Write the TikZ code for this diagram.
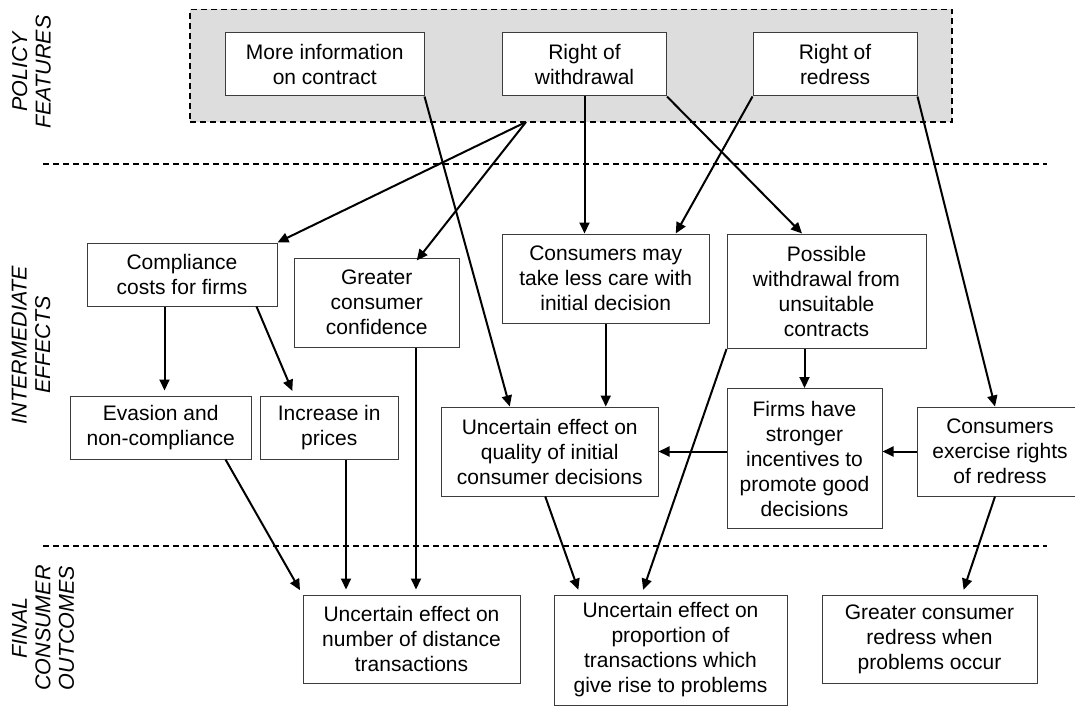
\documentclass[tikz,border=0pt]{standalone}
\usepackage{fontspec}
\setmainfont{Liberation Sans}
\usetikzlibrary{arrows.meta}
\definecolor{shade}{RGB}{221,221,221}
\definecolor{boxline}{RGB}{60,60,60}
\begin{document}
\begin{tikzpicture}[x=1pt,y=-1pt,
  box/.style={draw=boxline, line width=1pt, fill=white, align=center, inner sep=0pt, font=\fontsize{21}{25}\selectfont},
  arr/.style={line width=2pt, -{Triangle[length=11pt,width=10pt]}},
  gap/.style={shorten >=5pt},
  sepline/.style={line width=1.8pt, dash pattern=on 6pt off 4pt},
  side/.style={rotate=90, align=center, font=\fontsize{21.5}{23.5}\selectfont\itshape}]
\useasboundingbox (0,0) rectangle (1075,706);

% section separators
\draw[sepline] (43,164) -- (1047,164);
\draw[sepline] (43,546) -- (1047,546);

% side labels
\node[side] (lpf) at (31.5,72) {POLICY\\FEATURES};
\node[side] (lie) at (31,345) {INTERMEDIATE\\EFFECTS};
\node[side] (lfo) at (43,628) {FINAL\\CONSUMER\\OUTCOMES};

% policy features group
\node[draw, sepline, fill=shade, minimum width=762pt, minimum height=112.5pt, inner sep=0pt] (pf) at (571,65.75) {};

% policy boxes
\node[box, minimum width=198.5pt, minimum height=63pt] (mi) at (324.75,64.5) {More information\\on contract};
\node[box, minimum width=164pt, minimum height=63pt] (rw) at (584.5,64.5) {Right of\\withdrawal};
\node[box, minimum width=164pt, minimum height=63pt] (rr) at (835,64.5) {Right of\\redress};

% intermediate effects
\node[box, minimum width=190pt, minimum height=63pt] (comp) at (182,274.5) {Compliance\\costs for firms};
\node[box, minimum width=164.5pt, minimum height=89pt] (gc) at (376.75,302.5) {Greater\\consumer\\confidence};
\node[box, minimum width=207.5pt, minimum height=89pt] (cm) at (605.75,278.5) {Consumers may\\take less care with\\initial decision};
\node[box, minimum width=199pt, minimum height=114.5pt] (pw) at (826.5,291.25) {Possible\\withdrawal from\\unsuitable\\contracts};
\node[box, minimum width=181.5pt, minimum height=63pt] (ev) at (160.75,427.5) {Evasion and\\non-compliance};
\node[box, minimum width=138.5pt, minimum height=63pt] (ip) at (329.25,427.5) {Increase in\\prices};
\node[box, minimum width=216.5pt, minimum height=89pt] (uq) at (549.75,451.5) {Uncertain effect on\\quality of initial\\consumer decisions};
\node[box, minimum width=155pt, minimum height=140pt] (fh) at (804.5,458.5) {Firms have\\stronger\\incentives to\\promote good\\decisions};
\node[box, minimum width=166pt, minimum height=89pt] (ex) at (1000,451.5) {Consumers\\exercise rights\\of redress};

% final outcomes
\node[box, minimum width=217pt, minimum height=88pt] (nm) at (411.5,639) {Uncertain effect on\\number of distance\\transactions};
\node[box, minimum width=233pt, minimum height=110pt] (pr) at (670.5,650) {Uncertain effect on\\proportion of\\transactions which\\give rise to problems};
\node[box, minimum width=215pt, minimum height=88pt] (rd) at (929.5,639) {Greater consumer\\redress when\\problems occur};

\coordinate (split) at (526,122);

% connectors
\draw[arr] (split) -- (comp.north east);
\draw[arr] (split) -- ([xshift=40pt,yshift=-3pt]gc.north);
\draw[arr] (mi.south east) -- ([xshift=-40pt]uq.north);
\draw[arr] (rw.south) -- (rw.south |- cm.north);
\draw[arr] (rw.south east) -- ([xshift=-24.5pt]pw.north);
\draw[arr] (rr.south west) -- ([xshift=70pt]cm.north);
\draw[arr] (rr.south east) -- ([xshift=-5pt]ex.north);
\draw[arr, gap] ([xshift=-17.5pt]comp.south) -- ([xshift=-17.5pt]comp.south |- ev.north);
\draw[arr, gap] ([xshift=74.5pt]comp.south) -- ([xshift=-35pt]ip.north);
\draw[arr] (cm.south) -- (cm.south |- uq.north);
\draw[arr] (fh.north |- pw.south) -- (fh.north);
\draw[arr] (fh.west |- uq.east) -- (uq.east);
\draw[arr] (ex.west) -- (ex.west -| fh.east);
\draw[arr, gap] (pw.south west) -- ([xshift=-29pt]pr.north);
\draw[arr, gap] ([xshift=-4.5pt]uq.south) -- ([xshift=-90.5pt]pr.north);
\draw[arr, gap] ([xshift=-5pt]ex.south) -- ([xshift=32.5pt]rd.north);
\draw[arr, gap] ([xshift=64.75pt]ev.south) -- (nm.north west);
\draw[arr, gap] ([xshift=16.75pt]ip.south) -- ([xshift=16.75pt]ip.south |- nm.north);
\draw[arr, gap] ([xshift=39.25pt]gc.south) -- ([xshift=39.25pt]gc.south |- nm.north);
\end{tikzpicture}
\end{document}
